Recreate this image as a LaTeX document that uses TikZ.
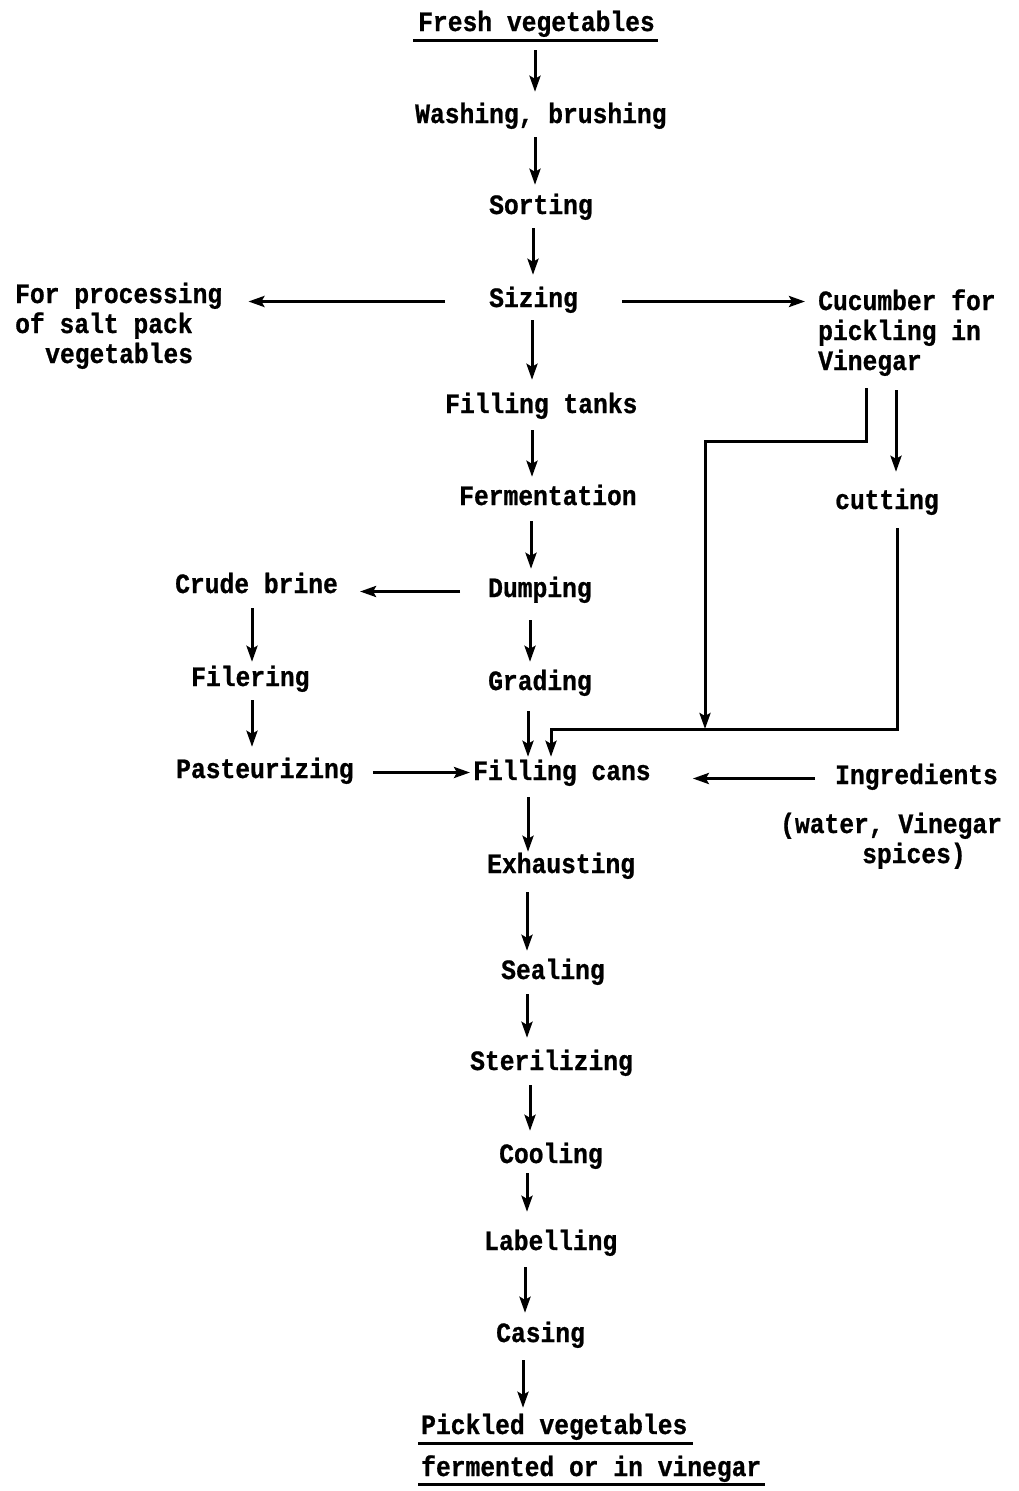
\documentclass[tikz,border=0pt]{standalone}
\usepackage{fontspec}
\newfontfamily\tw{Liberation Mono}[FakeStretch=0.88,FakeBold=0.8]
\usetikzlibrary{arrows.meta}
\begin{document}
\begin{tikzpicture}[x=1pt,y=-1pt]
\tikzset{
  lbl/.style={anchor=base west, inner sep=0pt, text height=16pt, text depth=5pt,
              font=\tw\bfseries\fontsize{28pt}{30pt}\selectfont},
  flow/.style={line width=3pt, -{Stealth[length=16pt,width=11pt,inset=3pt]}},
  wire/.style={line width=3pt},
  gap/.style 2 args={shorten <=#1, shorten >=#2},
}
\useasboundingbox (0,0) rectangle (1019,1491);

% main column
\node[lbl] (fresh) at (418,31)   {Fresh vegetables};
\node[lbl] (wash)  at (415,123)  {Washing, brushing};
\node[lbl] (sort)  at (489,214)  {Sorting};
\node[lbl] (size)  at (489,307)  {Sizing};
\node[lbl] (tanks) at (445,413)  {Filling tanks};
\node[lbl] (ferm)  at (459,505)  {Fermentation};
\node[lbl] (dump)  at (488,597)  {Dumping};
\node[lbl] (grade) at (488,690)  {Grading};
\node[lbl] (cans)  at (473,780)  {Filling cans};
\node[lbl] (exh)   at (487,873)  {Exhausting};
\node[lbl] (seal)  at (501,979)  {Sealing};
\node[lbl] (ster)  at (470,1070) {Sterilizing};
\node[lbl] (cool)  at (499,1163) {Cooling};
\node[lbl] (label) at (484,1250) {Labelling};
\node[lbl] (case)  at (496,1342) {Casing};
\node[lbl] (pick1) at (421,1434) {Pickled vegetables};
\node[lbl] (pick2) at (421,1476) {fermented or in vinegar};

% side branches
\node[lbl] (salt1) at (15,303)  {For processing};
\node[lbl] (salt2) at (15,333)  {of salt pack};
\node[lbl] (salt3) at (45,363)  {vegetables};
\node[lbl] (cuc1)  at (818,310) {Cucumber for};
\node[lbl] (cuc2)  at (818,340) {pickling in};
\node[lbl] (cuc3)  at (818,370) {Vinegar};
\node[lbl] (cut)   at (835,509) {cutting};
\node[lbl] (brine) at (175,593) {Crude brine};
\node[lbl] (filt)  at (191,686) {Filering};
\node[lbl] (past)  at (176,778) {Pasteurizing};
\node[lbl] (ingr)  at (835,784) {Ingredients};
\node[lbl] (ingr2) at (780,833) {(water, Vinegar};
\node[lbl] (ingr3) at (862,863) {spices)};

% underlines of the start and end products
\draw[wire] ([xshift=-5pt,yshift=-4pt]fresh.south west) -- ([xshift=3pt,yshift=-4pt]fresh.south east);
\draw[wire] ([xshift=-3pt,yshift=-4pt]pick1.south west) -- ([xshift=5pt,yshift=-4pt]pick1.south east);
\draw[wire] ([xshift=-3pt,yshift=-3pt]pick2.south west) -- ([xshift=4pt,yshift=-3pt]pick2.south east);

% main column arrows
\draw[flow, gap={14pt}{15pt}] (fresh.south -| 535,0) -- (wash.north -| 535,0);
\draw[flow, gap={9pt}{13pt}]  (wash.south -| 535,0)  -- (sort.north -| 535,0);
\draw[flow, gap={9pt}{16pt}]  (sort.south -| 533,0)  -- (size.north -| 533,0);
\draw[flow, gap={8pt}{17pt}]  (size.south -| 532,0)  -- (tanks.north -| 532,0);
\draw[flow, gap={12pt}{12pt}] (tanks.south -| 532,0) -- (ferm.north -| 532,0);
\draw[flow, gap={11pt}{12pt}] (ferm.south -| 531,0)  -- (dump.north -| 531,0);
\draw[flow, gap={18pt}{12pt}] (dump.south -| 530,0)  -- (grade.north -| 530,0);
\draw[flow, gap={16pt}{7pt}]  (grade.south -| 528,0) -- (cans.north -| 528,0);
\draw[flow, gap={12pt}{5pt}]  (cans.south -| 528,0)  -- (exh.north -| 528,0);
\draw[flow, gap={14pt}{12pt}] (exh.south -| 527,0)   -- (seal.north -| 527,0);
\draw[flow, gap={10pt}{16pt}] (seal.south -| 527,0)  -- (ster.north -| 527,0);
\draw[flow, gap={10pt}{16pt}] (ster.south -| 530,0)  -- (cool.north -| 530,0);
\draw[flow, gap={5pt}{22pt}]  (cool.south -| 527,0)  -- (label.north -| 527,0);
\draw[flow, gap={12pt}{13pt}] (label.south -| 525,0) -- (case.north -| 525,0);
\draw[flow, gap={13pt}{10pt}] (case.south -| 523,0)  -- (pick1.north -| 523,0);

% branches from sizing
\draw[flow, gap={44pt}{26pt}] (size.west) -- (size.west -| salt1.east);
\draw[flow, gap={44pt}{13pt}] (size.east) -- (size.east -| cuc1.west);

% cucumber line: direct to filling cans, and through cutting
\coordinate (j1) at (866,441);
\coordinate (j2) at (705,441);
\coordinate (j3) at (705,729);
\coordinate (c1) at (897,729);
\coordinate (c2) at (551,729);
\draw[flow, shorten <=13pt] (cuc3.south -| j1) -- (j1) -- (j2) -- (j3);
\draw[flow, gap={15pt}{21pt}] (cuc3.south -| 896,0) -- (cut.north -| 896,0);
\draw[flow, gap={14pt}{7pt}] (cut.south -| c1) -- (c1) -- (c2) -- (cans.north -| c2);

% brine recovery branch
\draw[flow, gap={28pt}{22pt}] (dump.west) -- (dump.west -| brine.east);
\draw[flow, gap={10pt}{8pt}]  (brine.south -| 252,0) -- (filt.north -| 252,0);
\draw[flow, gap={9pt}{15pt}]  (filt.south -| 252,0)  -- (past.north -| 252,0);
\draw[flow, gap={19pt}{3pt}]  (past.east) -- (past.east -| cans.west);

% ingredients
\draw[flow, gap={20pt}{42pt}] (ingr.west) -- (ingr.west -| cans.east);
\end{tikzpicture}
\end{document}
